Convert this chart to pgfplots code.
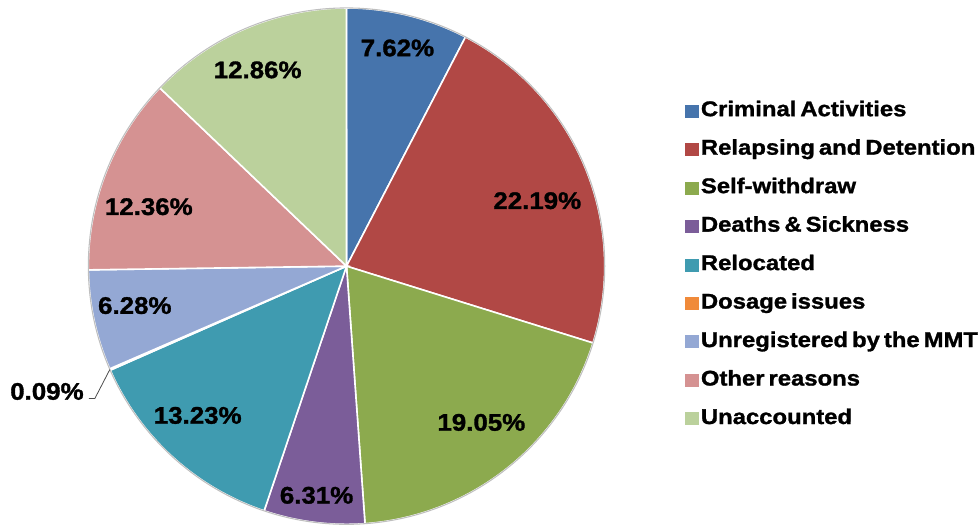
\documentclass[border=0pt]{standalone}
\usepackage{fontspec}
\setmainfont{Liberation Sans}[FakeStretch=1.08, WordSpace=0.6, BoldFeatures={FakeBold=1.3}]
\newfontfamily\legfont{Liberation Sans}[FakeStretch=1.12, WordSpace=0.6, BoldFeatures={FakeBold=1.3}]
\usepackage{pgfplots}
\usepackage{pgfplotstable}
\pgfplotsset{compat=1.18}

\definecolor{c0}{HTML}{4674AC}
\definecolor{c1}{HTML}{B14845}
\definecolor{c2}{HTML}{8CAA4E}
\definecolor{c3}{HTML}{7B5D99}
\definecolor{c4}{HTML}{3F9BB0}
\definecolor{c5}{HTML}{F08A3A}
\definecolor{c6}{HTML}{94A8D4}
\definecolor{c7}{HTML}{D59292}
\definecolor{c8}{HTML}{BBD19C}

\newcommand\labfont{\fontsize{18}{21}\selectfont\bfseries}

% share in percent, label position (px from left, px from bottom)
\pgfplotstableread{
share lx  ly
7.62  398 484
22.19 538 331
19.05 482 109
6.31  317 36
13.23 198 116
0.09  47  140
6.28  135 226
12.36 149 325
12.86 258 462
}\piedata

\def\R{193.9pt}

\begin{document}
\begin{tikzpicture}
\begin{axis}[
  x=0.75pt, y=0.75pt,
  xmin=0, xmax=978, ymin=0, ymax=532,
  hide axis, clip=false,
  legend cell align=left,
  legend style={at={(axis cs:686,431)}, anchor=north west,
    draw=none, fill=none, inner sep=0pt, outer sep=0pt,
    font=\legfont\fontsize{16}{19}\selectfont\bfseries,
    row sep=13.9pt, column sep=2pt,
    nodes={inner sep=0pt, text height=11.5pt, text depth=3.5pt}},
  legend image code/.code={\fill[#1] (0pt,-4.5pt) rectangle (9.5pt,4.5pt);},
]
% keep the full canvas in the bounding box
\path (axis cs:0,0) rectangle (axis cs:978,532);

\def\cum{0}
\pgfplotsforeachungrouped \i in {0,...,8}{%
  \pgfplotstablegetelem{\i}{share}\of\piedata \let\share\pgfplotsretval
  \pgfmathsetmacro\sa{90-3.6*\cum}
  \pgfmathsetmacro\sb{90-3.6*(\cum+\share)}
  \pgfmathsetmacro\cum{\cum+\share}
  \edef\tmp{\noexpand\fill[c\i, draw=white, line width=1.2pt]
    (axis cs:347,265.5) -- ++(\sa:\R) arc[start angle=\sa, end angle=\sb, radius=\R] -- cycle;}
  \tmp
}
\draw[black!25, line width=0.8pt] (axis cs:347,265.5) circle[radius=\R];

\pgfplotsforeachungrouped \i in {0,...,8}{%
  \pgfplotstablegetelem{\i}{share}\of\piedata \let\share\pgfplotsretval
  \pgfplotstablegetelem{\i}{lx}\of\piedata \let\lx\pgfplotsretval
  \pgfplotstablegetelem{\i}{ly}\of\piedata \let\ly\pgfplotsretval
  \edef\tmp{\noexpand\node[font=\noexpand\labfont, inner sep=0pt]
    at (axis cs:\lx,\ly) {\share\noexpand\%};}
  \tmp
}
\draw[black!70, line width=0.6pt] (axis cs:89,133) -- (axis cs:95,133) -- (axis cs:110,162);

\addlegendimage{c0}\addlegendentry{Criminal Activities}
\addlegendimage{c1}\addlegendentry{Relapsing and Detention}
\addlegendimage{c2}\addlegendentry{Self-withdraw}
\addlegendimage{c3}\addlegendentry{Deaths \& Sickness}
\addlegendimage{c4}\addlegendentry{Relocated}
\addlegendimage{c5}\addlegendentry{Dosage issues}
\addlegendimage{c6}\addlegendentry{Unregistered by the MMT}
\addlegendimage{c7}\addlegendentry{Other reasons}
\addlegendimage{c8}\addlegendentry{Unaccounted}
\end{axis}
\end{tikzpicture}
\end{document}
